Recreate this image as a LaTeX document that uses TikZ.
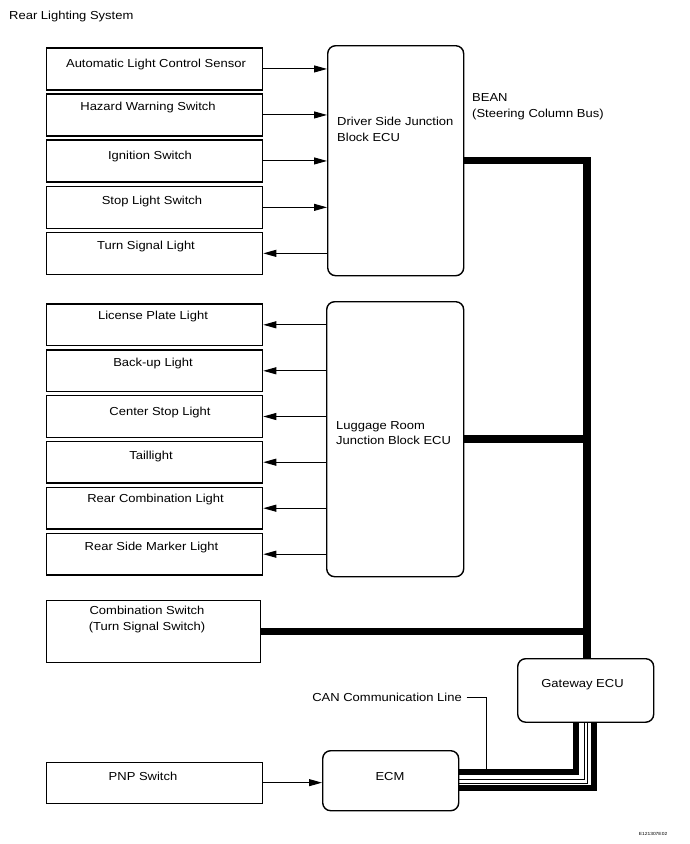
\documentclass[tikz,border=0pt]{standalone}
\usepackage{fontspec}
\setmainfont{Liberation Sans}[FakeStretch=1.12]
\usetikzlibrary{arrows.meta}
\begin{document}
\begin{tikzpicture}[x=1pt,y=-1pt,
  box/.style={draw, line width=1.3pt, inner sep=0, anchor=north west, minimum width=216pt},
  ecu/.style={draw, line width=1.4pt, rounded corners=8pt, inner sep=0, anchor=north west},
  txt/.style={inner sep=0, text height=8.3pt, text depth=0pt, font=\fontsize{11.6pt}{15.7pt}\selectfont},
  mtxt/.style={inner sep=0, align=left, anchor=north west, font=\fontsize{11.6pt}{15.7pt}\selectfont},
  arr/.style={line width=1pt, -{Triangle[length=13pt,width=7pt]}},
  bus/.style={line width=7.5pt, line join=miter},
  canthick/.style={line width=6pt, line join=miter},
  canthin/.style={line width=1.4pt, line join=miter},
  lead/.style={line width=0.8pt}]
\useasboundingbox (0,0) rectangle (689,844);

% title
\node[txt, anchor=west] (title) at (9,15.5) {Rear Lighting System};

% ECUs
\node[ecu, minimum width=136pt, minimum height=230pt] (drv) at (327,45) {};
\node[mtxt] (drvt) at (337,116.9) {Driver Side Junction\\Block ECU};
\node[ecu, minimum width=137pt, minimum height=275pt] (lug) at (326,301) {};
\node[mtxt] (lugt) at (336,420.9) {Luggage Room\\Junction Block ECU};
\node[ecu, minimum width=136pt, minimum height=63.5pt] (gw) at (517,658) {};
\node[txt] (gwt) at (582.5,683.3) {Gateway ECU};
\node[ecu, minimum width=136pt, minimum height=60pt] (ecm) at (322,750) {};
\node[txt] (ecmt) at (390,776) {ECM};

% upper input boxes
\node[box, minimum height=42pt] (b1) at (46,47.3) {};
\node[txt] at (156,63) {Automatic Light Control Sensor};
\node[box, minimum height=42pt] (b2) at (46,93.3) {};
\node[txt] at (148,106) {Hazard Warning Switch};
\node[box, minimum height=42pt] (b3) at (46,139.3) {};
\node[txt] at (150,155) {Ignition Switch};
\node[box, minimum height=42pt] (b4) at (46,185.7) {};
\node[txt] at (152,200) {Stop Light Switch};
\node[box, minimum height=42pt] (b5) at (46,231.7) {};
\node[txt] at (146,245) {Turn Signal Light};

% lower output boxes
\node[box, minimum height=41.7pt] (l1) at (46,303.3) {};
\node[txt] at (153,315) {License Plate Light};
\node[box, minimum height=41.7pt] (l2) at (46,349.3) {};
\node[txt] at (153,362.7) {Back-up Light};
\node[box, minimum height=41.7pt] (l3) at (46,395) {};
\node[txt] at (160,411.7) {Center Stop Light};
\node[box, minimum height=41.7pt] (l4) at (46,440.7) {};
\node[txt] at (151,455) {Taillight};
\node[box, minimum height=41.7pt] (l5) at (46,486.7) {};
\node[txt] at (155.5,498.3) {Rear Combination Light};
\node[box, minimum height=41.7pt] (l6) at (46,532.7) {};
\node[txt] at (151.5,546) {Rear Side Marker Light};

% combination switch
\node[box, minimum width=214pt, minimum height=62.5pt] (cs) at (46,599.5) {};
\node[mtxt, align=center, anchor=north] at (147,605.8) {Combination Switch\\(Turn Signal Switch)};

% PNP switch
\node[box, minimum height=41pt] (pnp) at (46,761.5) {};
\node[txt] at (143,776) {PNP Switch};

% arrows upper
\draw[arr] (b1.east) -- (b1.east -| drv.west);
\draw[arr] (b2.east) -- (b2.east -| drv.west);
\draw[arr] (b3.east) -- (b3.east -| drv.west);
\draw[arr] (b4.east) -- (b4.east -| drv.west);
\draw[arr] (b5.east -| drv.west) -- (b5.east);

% arrows lower
\draw[arr] (l1.east -| lug.west) -- (l1.east);
\draw[arr] (l2.east -| lug.west) -- (l2.east);
\draw[arr] (l3.east -| lug.west) -- (l3.east);
\draw[arr] (l4.east -| lug.west) -- (l4.east);
\draw[arr] (l5.east -| lug.west) -- (l5.east);
\draw[arr] (l6.east -| lug.west) -- (l6.east);

% PNP to ECM
\draw[arr] (pnp.east) -- (pnp.east -| ecm.west);

% BEAN bus
\coordinate (busx) at (587,0);
\draw[bus] (drv.east) -- (drv.east -| busx) -- (gw.north -| busx);
\draw[bus] (lug.east) -- (lug.east -| busx);
\draw[bus] (cs.east) -- (cs.east -| busx);
\node[mtxt] (bean) at (472,93.2) {BEAN\\(Steering Column Bus)};

% CAN lines
\coordinate (k1) at (576,771.7);
\coordinate (k2) at (584.2,779.5);
\coordinate (k3) at (587.5,783.3);
\coordinate (k4) at (593.8,788.3);
\draw[canthick] (ecm.east |- k1) -- (k1) -- (k1 |- gw.south);
\draw[canthin] (ecm.east |- k2) -- (k2) -- (k2 |- gw.south);
\draw[canthin] (ecm.east |- k3) -- (k3) -- (k3 |- gw.south);
\draw[canthick] (ecm.east |- k4) -- (k4) -- (k4 |- gw.south);

% CAN label
\node[txt, anchor=east] (canl) at (462,697) {CAN Communication Line};
\coordinate (canend) at (486.7,769);
\draw[lead] ([xshift=4.5pt]canl.east) -- (canl.east -| canend) -- (canend);

% figure code
\node[inner sep=0, font=\fontsize{4.4pt}{5pt}\selectfont] (code) at (653,834) {E121307E02};
\end{tikzpicture}
\end{document}
